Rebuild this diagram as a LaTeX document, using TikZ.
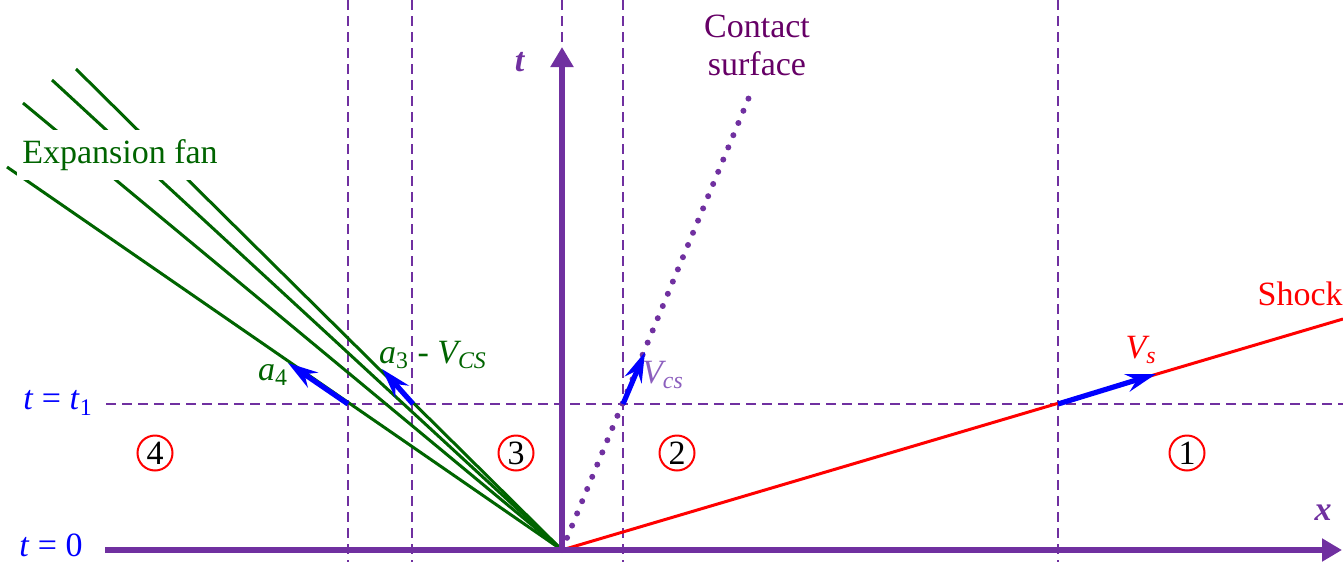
\documentclass[tikz,border=0pt]{standalone}
\usepackage{fontspec}
\setmainfont{Liberation Serif}
\usetikzlibrary{arrows.meta}
\definecolor{axpurple}{RGB}{112,48,160}
\definecolor{fangreen}{RGB}{0,100,0}
\definecolor{cspurple}{RGB}{102,0,102}
\definecolor{vcscol}{RGB}{140,95,190}
\tikzset{
  axis/.style={axpurple,line width=2.6pt,-{Triangle[length=10pt,width=11pt]}},
  guide/.style={axpurple,line width=1.3pt,dash pattern=on 5pt off 3pt},
  fanline/.style={fangreen,line width=1.5pt},
  shockline/.style={red,line width=1.5pt},
  contactline/.style={axpurple,line width=3pt,line cap=round,dash pattern=on 0pt off 6.6pt},
  vel/.style={blue,line width=2.6pt,-{Stealth[length=15pt,width=9pt,inset=5pt]}},
  lbl/.style={font=\fontsize{17}{19}\selectfont,inner sep=0pt},
  region/.style={draw=red,line width=1pt,circle,minimum size=17.5pt,inner sep=0pt,font=\fontsize{17}{19}\selectfont}
}
\begin{document}
\begin{tikzpicture}[x=0.5pt,y=-0.5pt]
\useasboundingbox (0,0) rectangle (1343,562);
% coordinates
\coordinate (O) at (562,550);
\coordinate (xs) at (105,550);
\coordinate (xe) at (1342,550);
\coordinate (te) at (562,47);
\coordinate (h1a) at (106,404);
\coordinate (h1b) at (1343,404);
\foreach \n/\x in {g1/348,g2/412,g4/623,g5/1058}{
  \coordinate (\n top) at (\x,0);
  \coordinate (\n bot) at (\x,562);
}
\coordinate (g3top) at (562,0);
\coordinate (g3bot) at (562,46);
\coordinate (fA) at (7,167);
\coordinate (fB) at (23,103);
\coordinate (fC) at (52,80);
\coordinate (fD) at (76,69);
\coordinate (shockEnd) at (1343,319);
\coordinate (csEnd) at (752,90);
\coordinate (a4s) at (348,404);
\coordinate (a4e) at (288,363);
\coordinate (a3s) at (413,404);
\coordinate (a3e) at (382,369);
\coordinate (vcss) at (623,404);
\coordinate (vcse) at (645,352);
\coordinate (vss) at (1058,404);
\coordinate (vse) at (1156,374);

% guide lines
\foreach \n in {g1,g2,g3,g4,g5}{\draw[guide] (\n top) -- (\n bot);}
\draw[guide] (h1a) -- (h1b);

% fan
\foreach \e in {fA,fB,fC,fD}{\draw[fanline] (O) -- (\e);}
\node[lbl,fill=white,inner xsep=2.5pt,inner ysep=4.5pt,text=fangreen] (fanlbl) at (120,155) {Expansion fan};

% shock and contact
\draw[shockline] (O) -- (shockEnd);
\draw[contactline] (O) -- (csEnd);

% axes
\draw[axis] (xs) -- (xe);
\draw[axis] (O) -- (te);

% velocity arrows
\draw[vel] (a4s) -- (a4e);
\draw[vel] (a3s) -- (a3e);
\draw[vel] (vcss) -- (vcse);
\draw[vel] (vss) -- (vse);

% labels
\node[lbl,text=red,anchor=east] (shocklbl) at (1343,294) {Shock};
\node[lbl,text=cspurple,align=center] (cslbl) at (757,45) {Contact\\surface};
\node[lbl,text=red] (vslbl) at (1141,350) {\textit{V\textsubscript{s}}};
\node[lbl,text=vcscol] (vcslbl) at (663,375) {\textit{V\textsubscript{cs}}};
\node[lbl,text=fangreen] (a4lbl) at (273,375) {\textit{a}\textsubscript{4}};
\node[lbl,text=fangreen] (a3lbl) at (433,355) {\textit{a}\textsubscript{3} - \textit{V\textsubscript{CS}}};
\node[lbl,text=blue] (t1lbl) at (58,403) {\textit{t} = \textit{t}\textsubscript{1}};
\node[lbl,text=blue] (t0lbl) at (51,545) {\textit{t} = 0};
\node[lbl,text=axpurple] (tlbl) at (520,62) {\textbf{\textit{t}}};
\node[lbl,text=axpurple] (xlbl) at (1323,513) {\textbf{\textit{x}}};

% regions
\node[region] (r4) at (155,453) {4};
\node[region] (r3) at (516,453) {3};
\node[region] (r2) at (677,453) {2};
\node[region] (r1) at (1187,453) {1};
\end{tikzpicture}
\end{document}
